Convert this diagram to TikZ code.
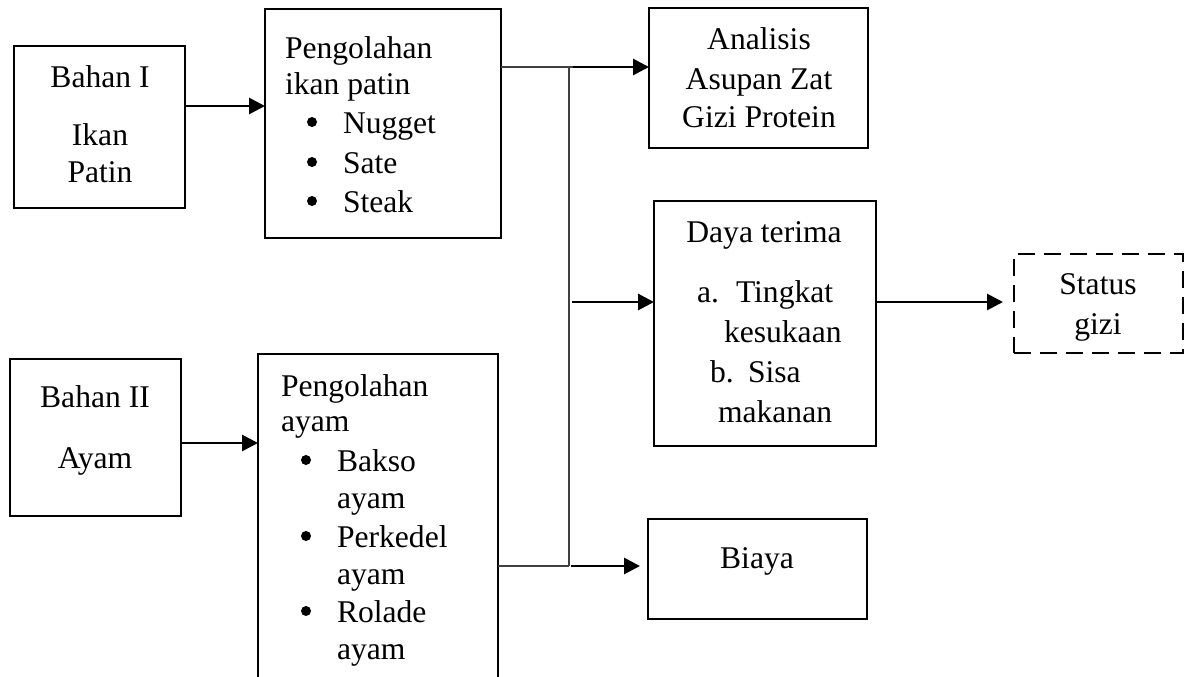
\documentclass[tikz,border=0pt]{standalone}
\usepackage{fontspec}
\setmainfont{Liberation Serif}
\usetikzlibrary{arrows.meta,calc}
\newcommand\fs{\fontsize{31.6pt}{38pt}\selectfont}
\begin{document}
\begin{tikzpicture}[x=1pt,y=-1pt,
  box/.style={draw, line width=2.9pt, inner sep=0pt, outer sep=0pt, anchor=north west},
  txt/.style={inner sep=0pt, outer sep=0pt, font=\fs},
  dot/.style={circle, fill, inner sep=0pt, outer sep=0pt, minimum size=10pt},
  thinline/.style={draw=black!75, line width=1.6pt},
  arr/.style={line width=2.9pt, -{Triangle[length=16pt,width=16pt]}},
]
\useasboundingbox (0,0) rectangle (1187,677);
\clip (0,0) rectangle (1187,677);

% boxes
\node[box, minimum width=171pt, minimum height=162pt] (b1) at (14,46) {};
\node[box, minimum width=236pt, minimum height=229pt] (p1) at (265,9) {};
\node[box, minimum width=219pt, minimum height=140pt] (an) at (649,8) {};
\node[box, minimum width=222pt, minimum height=245pt] (dt) at (654,201) {};
\node[box, dash pattern=on 17pt off 9pt, minimum width=169pt, minimum height=99pt] (sg) at (1014,254) {};
\node[box, minimum width=171pt, minimum height=157pt] (b2) at (10,359) {};
\node[box, minimum width=240pt, minimum height=345pt] (p2) at (258,354) {};
\node[box, minimum width=219pt, minimum height=100pt] (bi) at (648,519) {};

% texts
\node[txt, anchor=base] (t1) at (100,88) {Bahan I};
\node[txt, anchor=base] (t2) at (100,145) {Ikan};
\node[txt, anchor=base] (t3) at (100,182) {Patin};

\node[txt, anchor=base west] (t4) at (285,59) {Pengolahan};
\node[txt, anchor=base west] (t5) at (285,95) {ikan patin};
\node[dot] (u1) at (312,122) {};
\node[txt, anchor=base west] (t6) at (343,133) {Nugget};
\node[dot] (u2) at (312,162) {};
\node[txt, anchor=base west] (t7) at (343,173) {Sate};
\node[dot] (u3) at (312,201) {};
\node[txt, anchor=base west] (t8) at (343,212) {Steak};

\node[txt, anchor=base] (t9) at (759,50) {Analisis};
\node[txt, anchor=base] (t10) at (759,89) {Asupan Zat};
\node[txt, anchor=base] (t11) at (759,128) {Gizi Protein};

\node[txt, anchor=base] (t12) at (764,242) {Daya terima};
\node[txt, anchor=base west] (t13) at (697,302) {a.};
\node[txt, anchor=base west] (t14) at (736,302) {Tingkat};
\node[txt, anchor=base west] (t15) at (724,342) {kesukaan};
\node[txt, anchor=base west] (t16) at (710,382) {b.};
\node[txt, anchor=base west] (t17) at (748,382) {Sisa};
\node[txt, anchor=base west] (t18) at (718,422) {makanan};

\node[txt, anchor=base] (t19) at (1098,294) {Status};
\node[txt, anchor=base] (t20) at (1098,334) {gizi};

\node[txt, anchor=base] (t21) at (95,407) {Bahan II};
\node[txt, anchor=base] (t22) at (95,468) {Ayam};

\node[txt, anchor=base west] (t23) at (281,396) {Pengolahan};
\node[txt, anchor=base west] (t24) at (281,431) {ayam};
\node[dot] (u4) at (306,460) {};
\node[txt, anchor=base west] (t25) at (337,471) {Bakso};
\node[txt, anchor=base west] (t26) at (337,508) {ayam};
\node[dot] (u5) at (306,536) {};
\node[txt, anchor=base west] (t27) at (337,547) {Perkedel};
\node[txt, anchor=base west] (t28) at (337,584) {ayam};
\node[dot] (u6) at (306,611) {};
\node[txt, anchor=base west] (t29) at (337,622) {Rolade};
\node[txt, anchor=base west] (t30) at (337,659) {ayam};

\node[txt, anchor=base] (t31) at (757,568) {Biaya};

% connector helpers
\coordinate (j1) at (569,67);
\coordinate (j1e) at (578,67);
\coordinate (j2) at (569,302);
\coordinate (j3) at (569,566);
\coordinate (y1) at (0,106);
\coordinate (y2) at (0,443);

% connectors
\draw[arr] (b1.east |- y1) -- (p1.west |- y1);
\draw[arr] (b2.east |- y2) -- (p2.west |- y2);
\draw[thinline] (p1.east |- j1) -- (j1e);
\draw[thinline] (j1) -- (j3);
\draw[thinline] (p2.east |- j3) -- (j3);
\draw[arr] ($(j1)+(4,0)$) -- (an.west |- j1);
\draw[arr] ($(j2)+(3,0)$) -- (dt.west |- j2);
\draw[arr, shorten >=8pt] ($(j3)+(2,0)$) -- (bi.west |- j3);
\draw[arr, shorten >=11pt] (dt.east |- j2) -- (sg.west |- j2);
\end{tikzpicture}
\end{document}
